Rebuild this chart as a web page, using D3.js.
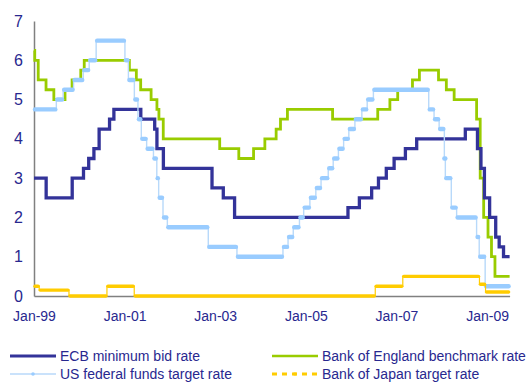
<!DOCTYPE html>
<html>
<head>
<meta charset="utf-8">
<script src="https://cdn.jsdelivr.net/npm/d3@7"></script>
<style>
  html, body { margin: 0; padding: 0; background: #fff; }
  svg { display: block; font-family: "Liberation Sans", Arial, sans-serif; }
</style>
</head>
<body>
<svg id="chart" width="530" height="383"></svg>
<script>
// Policy rates: dates on which each rate took effect, last entry = end of the data.
const ecbDates = ["1999-01-01","1999-04-09","1999-11-05","2000-02-04","2000-03-17","2000-04-28","2000-06-09","2000-09-01","2000-10-06","2001-05-11","2001-08-31","2001-09-18","2001-11-09","2002-12-06","2003-03-07","2003-06-06","2005-12-06","2006-03-08","2006-06-15","2006-08-09","2006-10-11","2006-12-13","2007-03-14","2007-06-13","2008-07-09","2008-10-15","2008-11-12","2008-12-10","2009-01-21","2009-03-11","2009-04-08","2009-05-13","2009-07-01"];
const ecbRates = [3.0,2.5,3.0,3.25,3.5,3.75,4.25,4.5,4.75,4.5,4.25,3.75,3.25,2.75,2.5,2.0,2.25,2.5,2.75,3.0,3.25,3.5,3.75,4.0,4.25,3.75,3.25,2.5,2.0,1.5,1.25,1.0,1.0];

const boeDates = ["1999-01-01","1999-01-07","1999-02-04","1999-04-08","1999-06-10","1999-09-08","1999-11-04","2000-01-13","2000-02-10","2001-02-08","2001-04-05","2001-05-10","2001-08-02","2001-09-18","2001-10-04","2001-11-08","2003-02-06","2003-07-10","2003-11-06","2004-02-05","2004-05-06","2004-06-10","2004-08-05","2005-08-04","2006-08-03","2006-11-09","2007-01-11","2007-05-10","2007-07-05","2007-12-06","2008-02-07","2008-04-10","2008-10-08","2008-11-06","2008-12-04","2009-01-08","2009-02-05","2009-03-05","2009-07-01"];
const boeRates = [6.25,6.0,5.5,5.25,5.0,5.25,5.5,5.75,6.0,5.75,5.5,5.25,5.0,4.75,4.5,4.0,3.75,3.5,3.75,4.0,4.25,4.5,4.75,4.5,4.75,5.0,5.25,5.5,5.75,5.5,5.25,5.0,4.5,3.0,2.0,1.5,1.0,0.5,0.5];

const fedDates = ["1999-01-01","1999-06-30","1999-08-24","1999-11-16","2000-02-02","2000-03-21","2000-05-16","2001-01-03","2001-01-31","2001-03-20","2001-04-18","2001-05-15","2001-06-27","2001-08-21","2001-09-17","2001-10-02","2001-11-06","2001-12-11","2002-11-06","2003-06-25","2004-06-30","2004-08-10","2004-09-21","2004-11-10","2004-12-14","2005-02-02","2005-03-22","2005-05-03","2005-06-30","2005-08-09","2005-09-20","2005-11-01","2005-12-13","2006-01-31","2006-03-28","2006-05-10","2006-06-29","2007-09-18","2007-10-31","2007-12-11","2008-01-22","2008-01-30","2008-03-18","2008-04-30","2008-10-08","2008-10-29","2008-12-16","2009-07-01"];
const fedRates = [4.75,5.0,5.25,5.5,5.75,6.0,6.5,6.0,5.5,5.0,4.5,4.0,3.75,3.5,3.0,2.5,2.0,1.75,1.25,1.0,1.25,1.5,1.75,2.0,2.25,2.5,2.75,3.0,3.25,3.5,3.75,4.0,4.25,4.5,4.75,5.0,5.25,4.75,4.5,4.25,3.5,3.0,2.25,2.0,1.5,1.0,0.25,0.25];

const bojDates = ["1999-01-01","1999-02-12","1999-10-10","2000-08-11","2001-03-19","2006-07-14","2007-02-21","2008-10-31","2008-12-19","2009-07-01"];
const bojRates = [0.25,0.15,0.0,0.25,0.0,0.25,0.5,0.3,0.1,0.1];

const yTicks = [0,1,2,3,4,5,6,7];
const xTickDates = ["1999-01-01","2001-01-01","2003-01-01","2005-01-01","2007-01-01","2009-01-01"];

const seriesNames = {
  ecb: "ECB minimum bid rate",
  boe: "Bank of England benchmark rate",
  fed: "US federal funds target rate",
  boj: "Bank of Japan target rate"
};

const colors = {
  ecb: "#333399",
  boe: "#99CC00",
  fed: "#99CCFF",
  fedLine: "#B8D9FA",
  boj: "#FFCC00",
  text: "#28288F",
  axis: "#808080"
};

const parse = d3.timeParse("%Y-%m-%d");
const toSeries = (dates, rates) => dates.map((d, i) => ({ date: parse(d), value: rates[i] }));

const ecb = toSeries(ecbDates, ecbRates);
const boe = toSeries(boeDates, boeRates);
const fed = toSeries(fedDates, fedRates);
const boj = toSeries(bojDates, bojRates);

const svg = d3.select("#chart");

const x = d3.scaleTime()
  .domain([parse("1999-01-01"), parse("2009-07-01")])
  .range([34, 509.6]);
const y = d3.scaleLinear().domain([0, 7]).range([296, 21]);

const stepLine = d3.line()
  .x(d => x(d.date))
  .y(d => y(d.value))
  .curve(d3.curveStepAfter);

// horizontal runs between consecutive rate changes
const runs = s => d3.pairs(s).map(([a, b]) => ({ x1: x(a.date), x2: x(b.date), y: y(a.value) }));

// Axes
const yAxis = svg.append("g")
  .attr("transform", "translate(34,0)")
  .call(d3.axisLeft(y).tickValues(yTicks).tickFormat(d3.format("d")).tickSize(0).tickSizeOuter(0).tickPadding(11));
yAxis.select(".domain").attr("stroke", colors.axis).attr("stroke-width", 1.5);
yAxis.selectAll("text").attr("fill", colors.text).attr("font-size", 16).attr("font-family", "Liberation Sans, Arial, sans-serif");

const xAxis = svg.append("g")
  .attr("transform", "translate(0,296)")
  .call(d3.axisBottom(x).tickValues(xTickDates.map(parse)).tickFormat(d3.timeFormat("%b-%y")).tickSize(0).tickSizeOuter(0).tickPadding(15));
xAxis.select(".domain").attr("stroke", colors.axis).attr("stroke-width", 1.5);
xAxis.selectAll("text").attr("fill", colors.text).attr("font-size", 14).attr("font-family", "Liberation Sans, Arial, sans-serif");

const plot = svg.append("g");

// Bank of England
plot.append("path").datum(boe)
  .attr("d", stepLine).attr("fill", "none")
  .attr("stroke", colors.boe).attr("stroke-width", 2.8);

// ECB
plot.append("path").datum(ecb)
  .attr("d", stepLine).attr("fill", "none")
  .attr("stroke", colors.ecb).attr("stroke-width", 3.3);

// US federal funds: thin connector plus marker runs
plot.append("path").datum(fed)
  .attr("d", stepLine).attr("fill", "none")
  .attr("stroke", colors.fedLine).attr("stroke-width", 1.4);
plot.append("g").selectAll("line").data(runs(fed)).join("line")
  .attr("x1", d => d.x1 + 1).attr("x2", d => d.x2 - 1)
  .attr("y1", d => d.y).attr("y2", d => d.y)
  .attr("stroke", colors.fed).attr("stroke-width", 4.4)
  .attr("stroke-linecap", "round");

// Bank of Japan
plot.append("path").datum(boj)
  .attr("d", stepLine).attr("fill", "none")
  .attr("stroke", colors.boj).attr("stroke-width", 1.2);
plot.append("g").selectAll("line").data(runs(boj)).join("line")
  .attr("x1", d => d.x1 + 1).attr("x2", d => d.x2 - 1)
  .attr("y1", d => d.y).attr("y2", d => d.y)
  .attr("stroke", colors.boj).attr("stroke-width", 3.4)
  .attr("stroke-linecap", "round");

// Legend
const legendItems = [
  { key: "ecb", col: 0, row: 0 },
  { key: "boe", col: 1, row: 0 },
  { key: "fed", col: 0, row: 1 },
  { key: "boj", col: 1, row: 1 }
];
const colX = [10, 272];
const rowY = [356, 374];
const legend = svg.append("g");
legendItems.forEach(it => {
  const g = legend.append("g").attr("transform", `translate(${colX[it.col]},${rowY[it.row]})`);
  if (it.key === "ecb") {
    g.append("line").attr("x1", 0).attr("x2", 46).attr("stroke", colors.ecb).attr("stroke-width", 3);
  } else if (it.key === "boe") {
    g.append("line").attr("x1", 0).attr("x2", 46).attr("stroke", colors.boe).attr("stroke-width", 2.5);
  } else if (it.key === "fed") {
    g.append("line").attr("x1", 0).attr("x2", 46).attr("stroke", colors.fedLine).attr("stroke-width", 1.3);
    g.append("circle").attr("cx", 23).attr("cy", 0).attr("r", 1.8).attr("fill", colors.fed);
  } else {
    g.append("line").attr("x1", 0).attr("x2", 46).attr("stroke", colors.boj)
      .attr("stroke-width", 3).attr("stroke-dasharray", "5,5");
    g.append("rect").attr("x", 21.5).attr("y", -1.5).attr("width", 3).attr("height", 3).attr("fill", colors.boj);
  }
  g.append("text").attr("x", 50).attr("y", 0).attr("dy", "0.35em")
    .attr("fill", colors.text).attr("font-size", 14)
    .text(seriesNames[it.key]);
});
</script>
</body>
</html>
